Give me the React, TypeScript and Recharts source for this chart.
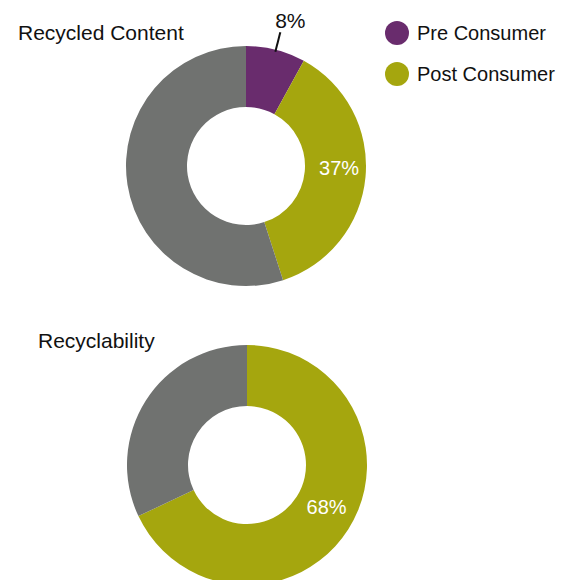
import React from 'react';
import { PieChart, Pie, Cell } from 'recharts';

const recycledCategories = ['Pre Consumer', 'Post Consumer', 'Other'];
const recycledValues = [8, 37, 55];
const recyclabilityCategories = ['Recyclable', 'Other'];
const recyclabilityValues = [68, 32];
const legendLabels = ['Pre Consumer', 'Post Consumer'];

const PURPLE = '#692c6d';
const OLIVE = '#a5a60e';
const GRAY = '#707270';
const FONT = '"Liberation Sans", Arial, Helvetica, sans-serif';
const RADIAN = Math.PI / 180;

const recycledData = recycledCategories.map((name, i) => ({ name, value: recycledValues[i] }));
const recyclabilityData = recyclabilityCategories.map((name, i) => ({ name, value: recyclabilityValues[i] }));

const recycledColors = [PURPLE, OLIVE, GRAY];
const recyclabilityColors = [OLIVE, GRAY];

const polar = (cx: number, cy: number, r: number, angle: number) => ({
  x: cx + r * Math.cos(-angle * RADIAN),
  y: cy + r * Math.sin(-angle * RADIAN),
});

const insideLabel = (p: any) => {
  const { cx, cy, midAngle, innerRadius, outerRadius, value } = p;
  const pt = polar(cx, cy, (innerRadius + outerRadius) / 2, midAngle);
  return (
    <text x={pt.x + 4} y={pt.y - 6} fill="#fff" fontSize={20} fontFamily={FONT}
      textAnchor="middle" dominantBaseline="central">
      {`${value}%`}
    </text>
  );
};

const recycledLabel = (p: any) => {
  const { cx, cy, midAngle, outerRadius, value, index } = p;
  if (index === 1) return insideLabel(p);
  if (index !== 0) return <g />;
  const end = polar(cx, cy, outerRadius + 18, midAngle);
  return (
    <text x={end.x + 10} y={end.y - 12} fill="#111" fontSize={21} fontFamily={FONT}
      textAnchor="middle" dominantBaseline="central">
      {`${value}%`}
    </text>
  );
};

const recycledLabelLine = (p: any) => {
  const { cx, cy, midAngle, outerRadius, index } = p;
  if (index !== 0) return <g />;
  const a = polar(cx, cy, outerRadius - 2, midAngle);
  const b = polar(cx, cy, outerRadius + 18, midAngle);
  return <line x1={a.x} y1={a.y} x2={b.x} y2={b.y} stroke="#111" strokeWidth={2} />;
};

const recyclabilityLabel = (p: any) => (p.index === 0 ? insideLabel(p) : <g />);

const titleStyle: React.CSSProperties = {
  position: 'absolute',
  fontFamily: FONT,
  fontSize: 21,
  color: '#111',
  lineHeight: '24px',
  whiteSpace: 'nowrap',
};

export default function App() {
  return (
    <div style={{ position: 'absolute', left: 0, top: 0, width: 576, height: 580, background: '#fff', overflow: 'hidden' }}>
      <PieChart width={576} height={580} margin={{ top: 0, right: 0, bottom: 0, left: 0 }}>
        <Pie
          data={recycledData}
          dataKey="value"
          cx={246}
          cy={166}
          innerRadius={59}
          outerRadius={120}
          startAngle={90}
          endAngle={-270}
          stroke="none"
          label={recycledLabel}
          labelLine={recycledLabelLine}
          isAnimationActive={false}
        >
          {recycledData.map((d, i) => (
            <Cell key={d.name} fill={recycledColors[i]} />
          ))}
        </Pie>
        <Pie
          data={recyclabilityData}
          dataKey="value"
          cx={247}
          cy={465}
          innerRadius={59}
          outerRadius={120}
          startAngle={90}
          endAngle={-270}
          stroke="none"
          label={recyclabilityLabel}
          labelLine={false}
          isAnimationActive={false}
        >
          {recyclabilityData.map((d, i) => (
            <Cell key={d.name} fill={recyclabilityColors[i]} />
          ))}
        </Pie>
      </PieChart>

      <div style={{ ...titleStyle, left: 18, top: 21 }}>Recycled Content</div>
      <div style={{ ...titleStyle, left: 38, top: 329 }}>Recyclability</div>

      {legendLabels.map((label, i) => (
        <div key={label} style={{ position: 'absolute', left: 385, top: 21 + i * 41, display: 'flex', alignItems: 'center', height: 24 }}>
          <span style={{ width: 24, height: 24, borderRadius: 12, background: recycledColors[i], display: 'inline-block' }} />
          <span style={{ marginLeft: 8, fontFamily: FONT, fontSize: 20, color: '#111', whiteSpace: 'nowrap' }}>{label}</span>
        </div>
      ))}
    </div>
  );
}
